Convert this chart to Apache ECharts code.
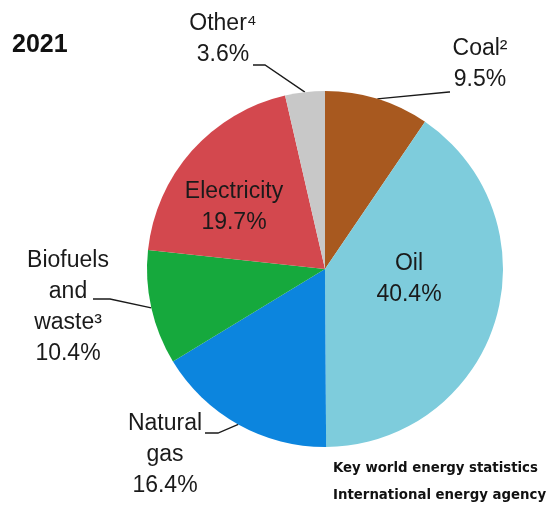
<!DOCTYPE html>
<html>
<head>
<meta charset="utf-8">
<script src="https://cdn.jsdelivr.net/npm/echarts@6/dist/echarts.min.js"></script>
<style>
html,body{margin:0;padding:0;background:#fff;}
#chart{width:549px;height:507px;}
</style>
</head>
<body>
<div id="chart"></div>
<script>
// Data
const categories = ['Coal²', 'Oil', 'Natural\ngas', 'Biofuels\nand\nwaste³', 'Electricity', 'Other⁴'];
const shares = [9.5, 40.4, 16.4, 10.4, 19.7, 3.6];
const sliceColors = ['#A8591F', '#7ECCDC', '#0C85DE', '#16A93D', '#D3484E', '#C8C8C8'];
const yearTitle = '2021';
const sourceLines = ['Key world energy statistics', 'International energy agency'];

// Layout (label centers and leader-line ends)
const labelCenters = [[480, 64], [409, 279], [165, 455], [68, 307], [234, 207], [223, 39]];
const guideBends = [[449, 92], null, [218, 433], [110, 299], null, [265, 65]];
const guideEnds = [[450, 92], null, [205, 433], [93, 299], null, [253, 65]];
const insideLabel = [false, true, false, false, true, false];

const chart = echarts.init(document.getElementById('chart'), null, {renderer: 'canvas'});

const pieData = categories.map((name, i) => ({
  name: name,
  value: shares[i],
  itemStyle: {color: sliceColors[i]},
  label: {position: insideLabel[i] ? 'inside' : 'outside'},
  labelLine: {show: !insideLabel[i]}
}));

chart.setOption({
  animation: false,
  backgroundColor: '#ffffff',
  title: [{
    text: yearTitle,
    left: 7, top: 28,
    textStyle: {fontFamily: '"Liberation Sans", Arial, sans-serif', fontWeight: 'bold', fontSize: 25, color: '#111'}
  }, {
    text: sourceLines.join('\n'),
    left: 328, top: 450,
    textStyle: {fontFamily: '"DejaVu Sans Condensed", "Liberation Sans Narrow", sans-serif', fontWeight: 'bold', fontSize: 14.8, lineHeight: 27, color: '#111'}
  }],
  series: [{
    type: 'pie',
    center: [325, 269],
    radius: [0, 178],
    startAngle: 90,
    clockwise: true,
    data: pieData,
    itemStyle: {borderWidth: 0},
    label: {
      show: true,
      formatter: p => p.name + '\n' + p.value.toFixed(1) + '%',
      fontFamily: '"Liberation Sans", Arial, sans-serif',
      fontSize: 23,
      lineHeight: 31,
      color: '#1a1a1a',
      align: 'center'
    },
    labelLine: {
      show: true,
      lineStyle: {color: '#1a1a1a', width: 1.3}
    },
    labelLayout: function (params) {
      const i = params.dataIndex;
      const c = labelCenters[i];
      const out = {x: c[0], y: c[1], align: 'center', verticalAlign: 'middle'};
      if (!insideLabel[i] && params.labelLinePoints) {
        const start = params.labelLinePoints[0];
        out.labelLinePoints = [start, guideBends[i], guideEnds[i]];
      }
      return out;
    },
    emphasis: {disabled: true}
  }]
});
</script>
</body>
</html>
